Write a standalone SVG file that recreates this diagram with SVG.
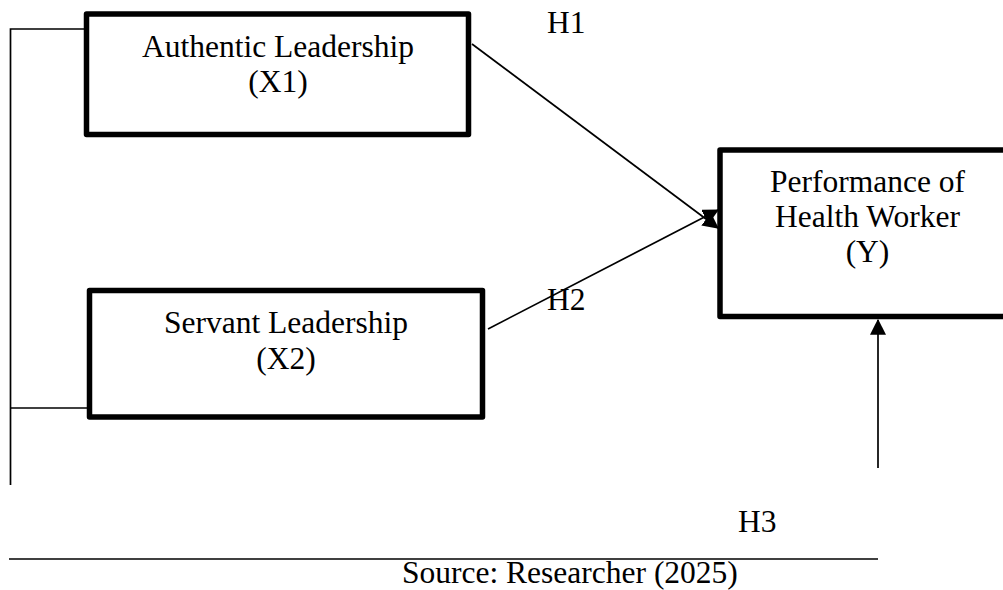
<svg xmlns="http://www.w3.org/2000/svg" width="1003" height="590" viewBox="0 0 1003 590">
<style>
  .box { fill: #ffffff; stroke: #000000; stroke-width: 5.5; stroke-linejoin: round; }
  .lbl { font-family: "Liberation Serif", "Times New Roman", serif; font-size: 31.5px; fill: #000000; text-anchor: middle; }
  .txt { font-family: "Liberation Serif", "Times New Roman", serif; font-size: 31.5px; fill: #000000; }
  .ln { fill: none; stroke: #000000; stroke-width: 1.7; }
  .arr { fill: none; stroke: #000000; stroke-width: 1.7; marker-end: url(#ah); }
</style>
<defs>
  <marker id="ah" markerUnits="userSpaceOnUse" markerWidth="16" markerHeight="16" viewBox="0 0 14 14" refX="13" refY="7" orient="auto">
    <path d="M0,0 L14,7 L0,14 Z" fill="#000000"/>
  </marker>
</defs>
<rect width="1003" height="590" fill="#ffffff"/>
<g id="connectors">
  <polyline class="ln" points="86,29 10.5,29 10.5,485"/>
  <line class="ln" x1="10.5" y1="408" x2="90" y2="408"/>
  <line class="arr" x1="472" y1="44" x2="718" y2="228"/>
  <line class="arr" x1="488" y1="329" x2="718" y2="210"/>
  <line class="arr" x1="878" y1="468" x2="878" y2="320"/>
  <line class="ln" x1="9" y1="559" x2="878" y2="559"/>
</g>
<g id="node-x1">
  <rect class="box" x="86.5" y="14" width="382" height="120.5"/>
  <text class="lbl" x="278" y="57">Authentic Leadership</text>
  <text class="lbl" x="278" y="92">(X1)</text>
</g>
<g id="node-x2">
  <rect class="box" x="89.5" y="290.5" width="393" height="126.5"/>
  <text class="lbl" x="286" y="333">Servant Leadership</text>
  <text class="lbl" x="286" y="369">(X2)</text>
</g>
<g id="node-y">
  <rect class="box" x="720" y="150" width="300" height="166.5"/>
  <text class="lbl" x="867.5" y="192">Performance of</text>
  <text class="lbl" x="867.5" y="227">Health Worker</text>
  <text class="lbl" x="867.5" y="262">(Y)</text>
</g>
<g id="labels">
  <text class="txt" x="547" y="33">H1</text>
  <text class="txt" x="547" y="310">H2</text>
  <text class="txt" x="738" y="532">H3</text>
  <text class="txt" x="402" y="583">Source: Researcher (2025)</text>
</g>
</svg>
